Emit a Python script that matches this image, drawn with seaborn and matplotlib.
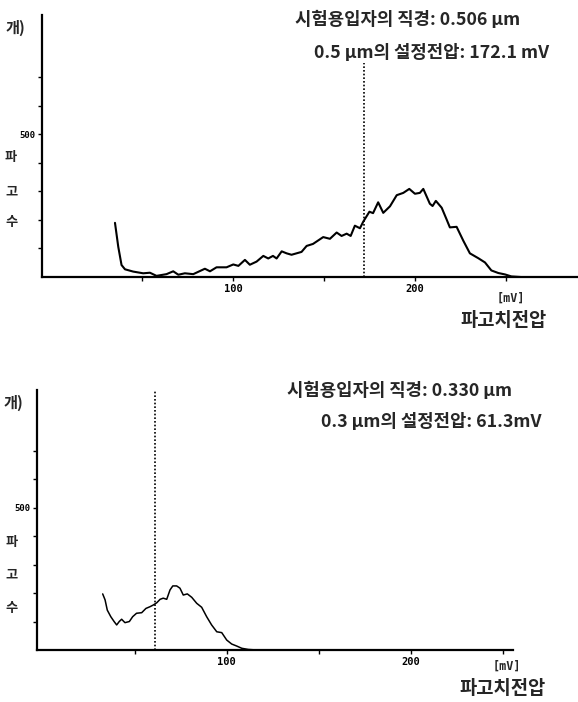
import matplotlib
matplotlib.use("Agg")
import matplotlib.pyplot as plt
import seaborn as sns
import pandas as pd

# ---------------- data ----------------
top_voltage_mv = [35.2, 37.0, 38.8, 40.7, 45.2, 50.7, 54.4, 58.0, 63.5, 67.2, 70.0, 73.6,
                  78.2, 84.6, 87.4, 91.0, 96.5, 100.2, 103.0, 106.6, 109.3, 113.0, 116.7,
                  119.4, 122.0, 124.0, 126.8, 129.5, 132.2, 137.7, 140.5, 144.0, 149.6,
                  153.3, 157.0, 159.7, 162.5, 164.7, 167.0, 169.8, 171.6, 175.0, 177.0,
                  179.8, 182.6, 186.3, 190.0, 193.6, 196.9, 200.0, 202.7, 204.6, 208.2,
                  209.7, 211.5, 214.7, 217.4, 219.2, 222.9, 226.6, 230.2, 234.8, 238.5,
                  242.0, 245.8, 249.5, 253.0, 258.0]
top_counts = [190, 106, 42, 27, 19, 13, 15, 4, 10, 20, 8, 13,
              10, 29, 20, 34, 34, 44, 39, 60, 43, 54, 74,
              65, 74, 65, 90, 83, 78, 88, 109, 116, 140,
              134, 156, 144, 152, 144, 180, 171, 194, 229, 224,
              262, 225, 248, 287, 295, 309, 292, 295, 309, 257,
              249, 267, 243, 202, 174, 176, 127, 83, 66, 51,
              23, 14, 9, 2, 0]

bottom_voltage_mv = [32.6, 33.9, 35.1, 37.0, 38.8, 40.2, 41.6, 42.9, 44.7, 47.1, 48.9,
                     51.0, 53.8, 56.1, 58.3, 60.1, 62.0, 63.8, 65.5, 67.4, 69.2, 70.7,
                     72.8, 74.6, 76.4, 78.6, 81.0, 83.7, 86.4, 89.1, 91.8, 94.6, 97.3,
                     100.0, 102.7, 105.4, 108.2, 111.7, 116.3]
bottom_counts = [197, 176, 140, 117, 100, 88, 100, 108, 96, 100, 117,
                 129, 131, 146, 152, 158, 166, 178, 182, 178, 211, 225,
                 225, 217, 193, 197, 185, 164, 150, 117, 88, 64, 61,
                 35, 21, 14, 6, 2, 0]

top_setting_mv = 172.1
bottom_setting_mv = 61.3

x_ticks = [50, 100, 150, 200, 250]
x_tick_labels = ["", "100", "", "200", ""]
y_ticks = [100, 200, 300, 400, 500, 600, 700]
y_tick_labels = ["", "", "", "", "500", "", ""]

top_title = "시험용입자의 직경: 0.506 μm"
top_setting_text = "0.5 μm의 설정전압: 172.1 mV"
bottom_title = "시험용입자의 직경: 0.330 μm"
bottom_setting_text = "0.3 μm의 설정전압: 61.3mV"
y_label_chars = ["파", "고", "수"]
y_unit = "개)"
x_label = "파고치전압"
x_unit = "[mV]"

# ---------------- style ----------------
sns.set_style("ticks")
plt.rcParams["font.family"] = ["Noto Sans CJK KR", "DejaVu Sans"]

W, H = 578, 702
fig = plt.figure(figsize=(W / 100, H / 100), dpi=100)


def frac(px, py):
    return px / W, 1 - py / H


def make_axes(left, top, right, bottom, xlim, ylim):
    ax = fig.add_axes([left / W, 1 - bottom / H, (right - left) / W, (bottom - top) / H])
    ax.set_xlim(*xlim)
    ax.set_ylim(*ylim)
    sns.despine(ax=ax)
    for s in ("left", "bottom"):
        ax.spines[s].set_linewidth(1.6)
        ax.spines[s].set_color("black")
    ax.set_xticks(x_ticks)
    ax.set_xticklabels(x_tick_labels, fontsize=7.5, fontweight="bold", family="DejaVu Sans Mono")
    ax.set_yticks(y_ticks)
    ax.set_yticklabels(y_tick_labels, fontsize=6.5, fontweight="bold", family="DejaVu Sans Mono")
    ax.tick_params(axis="both", direction="out", length=3, width=1, pad=2, colors="black")
    ax.set_xlabel("")
    ax.set_ylabel("")
    ax.patch.set_alpha(0)
    return ax


# top panel
ax1 = make_axes(42, 15, 578, 277, (-4.9, 289.6), (0, 919))
df_top = pd.DataFrame({"mv": top_voltage_mv, "count": top_counts})
sns.lineplot(data=df_top, x="mv", y="count", ax=ax1, color="black", linewidth=1.5,
             sort=False, estimator=None)
ax1.axvline(top_setting_mv, ymin=0, ymax=751 / 919, color="black", linewidth=1.2,
            linestyle=(0, (1, 1.2)))
ax1.set_xlabel("")
ax1.set_ylabel("")

# bottom panel
ax2 = make_axes(37, 390, 513, 650, (-3.1, 255.6), (0, 913))
df_bot = pd.DataFrame({"mv": bottom_voltage_mv, "count": bottom_counts})
sns.lineplot(data=df_bot, x="mv", y="count", ax=ax2, color="black", linewidth=1.1,
             sort=False, estimator=None)
ax2.axvline(bottom_setting_mv, ymin=0, ymax=1, color="black", linewidth=1.2,
            linestyle=(0, (1, 1.2)))
ax2.set_xlabel("")
ax2.set_ylabel("")

# ---------------- text ----------------
def ftext(px, py, s, size, weight="bold", ha="center", **kw):
    x, y = frac(px, py)
    fig.text(x, y, s, fontsize=size, fontweight=weight, ha=ha, va="center", **kw)


# top
ftext(408, 20, top_title, 12.8)
ftext(432, 53, top_setting_text, 12.8)
ftext(15, 28, y_unit, 11)
for ch, py in zip(y_label_chars, [157, 192, 222]):
    ftext(11, py, ch, 9.5)
ftext(511, 298, x_unit, 8.5, family="DejaVu Sans Mono")
ftext(504, 321, x_label, 13.5)

# bottom
ftext(400, 391, bottom_title, 12.8)
ftext(431, 422, bottom_setting_text, 12.8)
ftext(13, 403, y_unit, 11)
for ch, py in zip(y_label_chars, [542, 575, 608]):
    ftext(12, py, ch, 9.5)
ftext(507, 666, x_unit, 8.5, family="DejaVu Sans Mono")
ftext(503, 688, x_label, 13.5)

fig.savefig("out.png", dpi=100)
